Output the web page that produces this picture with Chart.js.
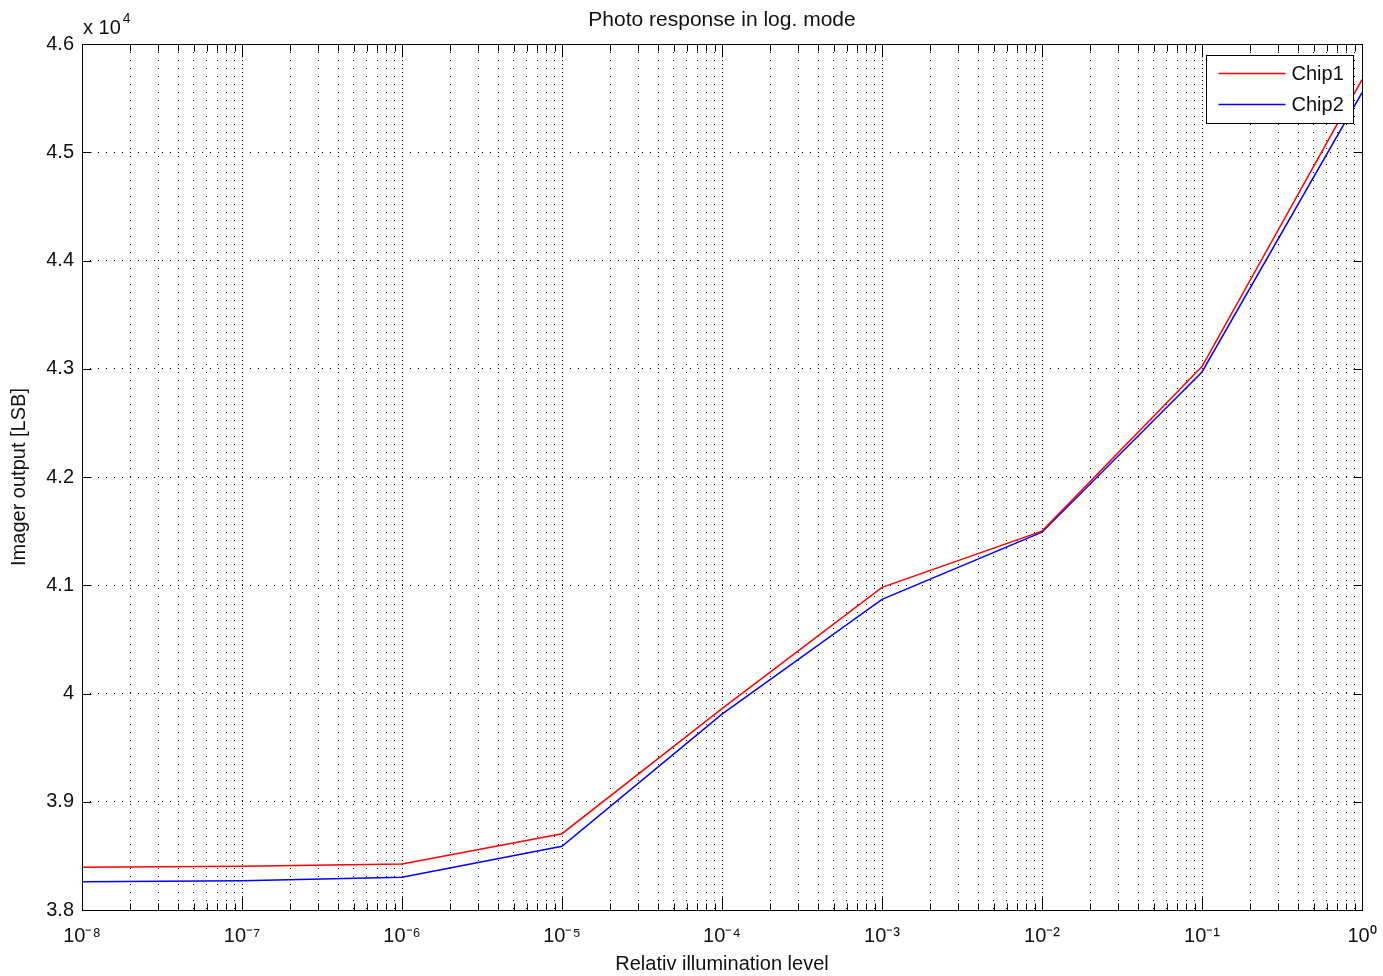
<!DOCTYPE html>
<html>
<head>
<meta charset="utf-8">
<script src="https://cdn.jsdelivr.net/npm/chart.js@4/dist/chart.umd.min.js"></script>
<style>
  html, body { margin: 0; padding: 0; background: #fff; }
  #wrap { width: 1383px; height: 976px; position: relative; }
</style>
</head>
<body>
<div id="wrap"><canvas id="c"></canvas></div>
<script>
// ---- data ----
const illumination = [1e-8, 1e-7, 1e-6, 1e-5, 1e-4, 1e-3, 1e-2, 1e-1, 1];
const chip1 = [38395, 38405, 38425, 38705, 39860, 40980, 41500, 43020, 45670];
const chip2 = [38260, 38270, 38302, 38588, 39810, 40870, 41490, 42970, 45550];
const seriesNames = ['Chip1', 'Chip2'];
const seriesColors = ['#ff0000', '#0000ff'];
const decades = [-8, -7, -6, -5, -4, -3, -2, -1, 0];
const yTickValues = [38000, 39000, 40000, 41000, 42000, 43000, 44000, 45000, 46000];
const yTickLabels = ['3.8', '3.9', '4', '4.1', '4.2', '4.3', '4.4', '4.5', '4.6'];
const titleText = 'Photo response in log. mode';
const xTitle = 'Relativ illumination level';
const yTitle = 'Imager output [LSB]';

const FONT = '"Liberation Sans", Arial, Helvetica, sans-serif';
const TXT = '#111';

const sup = {'-': '\u207B', '0': '\u2070', '1': '\u00B9', '2': '\u00B2', '3': '\u00B3', '4': '\u2074',
             '5': '\u2075', '6': '\u2076', '7': '\u2077', '8': '\u2078', '9': '\u2079'};
const toSup = s => String(s).split('').map(ch => sup[ch] || ch).join('');

// all x tick values: 1..9 x 10^k within the range
const xTickValues = [];
decades.forEach(d => {
  if (d === 0) { xTickValues.push(1); return; }
  for (let m = 1; m <= 9; m++) xTickValues.push(m * Math.pow(10, d));
});
const isDecade = v => Math.abs(Math.log10(v) - Math.round(Math.log10(v))) < 1e-9;

const mkData = arr => illumination.map((x, i) => ({x: x, y: arr[i]}));

const framePlugin = {
  id: 'matlabFrame',
  afterLayout(chart) {
    // center the title over the plot box, as MATLAB does
    const tb = chart.titleBlock;
    if (tb) { tb.left = chart.chartArea.left; tb.right = chart.chartArea.right; }
  },
  beforeDatasetsDraw(chart) {
    const {ctx, chartArea: a, scales: {x}} = chart;
    // denser dots on the decade grid lines (major + minor grid overlap)
    ctx.save();
    ctx.strokeStyle = '#000';
    ctx.lineWidth = 1;
    ctx.setLineDash([1, 7]);
    ctx.lineDashOffset = -4;
    decades.forEach(d => {
      const px = Math.round(x.getPixelForValue(Math.pow(10, d))) + 0.5;
      ctx.beginPath(); ctx.moveTo(px, a.top); ctx.lineTo(px, a.bottom); ctx.stroke();
    });
    ctx.restore();
  },
  afterDatasetsDraw(chart) {
    const {ctx, chartArea: a, scales: {x, y}} = chart;
    ctx.save();
    ctx.strokeStyle = '#000';
    ctx.lineWidth = 1;
    ctx.setLineDash([]);
    // box
    const L = Math.round(a.left) + 0.5, R = Math.round(a.right) + 0.5;
    const T = Math.round(a.top) + 0.5, B = Math.round(a.bottom) + 0.5;
    ctx.strokeRect(L, T, R - L, B - T);
    // inward ticks
    ctx.beginPath();
    xTickValues.forEach(v => {
      const px = Math.round(x.getPixelForValue(v)) + 0.5;
      const len = isDecade(v) ? 13 : 7;
      ctx.moveTo(px, B); ctx.lineTo(px, B - len);
      ctx.moveTo(px, T); ctx.lineTo(px, T + len);
    });
    yTickValues.forEach(v => {
      const py = Math.round(y.getPixelForValue(v)) + 0.5;
      ctx.moveTo(L, py); ctx.lineTo(L + 9, py);
      ctx.moveTo(R, py); ctx.lineTo(R - 9, py);
    });
    ctx.stroke();

    // legend
    const bw = 147, bh = 68;
    const bx = Math.round(a.right) - 9 - bw + 0.5;
    const by = Math.round(a.top) + 11 + 0.5;
    ctx.fillStyle = '#fff';
    ctx.fillRect(bx, by, bw, bh);
    ctx.strokeStyle = '#000';
    ctx.strokeRect(bx, by, bw, bh);
    ctx.font = '20px ' + FONT;
    ctx.textBaseline = 'middle';
    ctx.textAlign = 'left';
    chart.data.datasets.forEach((ds, i) => {
      const ly = by + 18 + i * 31;
      ctx.strokeStyle = ds.borderColor;
      ctx.lineWidth = 1.3;
      ctx.beginPath(); ctx.moveTo(bx + 12, ly); ctx.lineTo(bx + 79, ly); ctx.stroke();
      ctx.fillStyle = TXT;
      ctx.fillText(ds.label, bx + 85, ly + 1);
    });

    // exponent label "x 10^4"
    ctx.textBaseline = 'alphabetic';
    ctx.font = '20px ' + FONT;
    ctx.fillStyle = TXT;
    const base = 'x 10';
    ctx.fillText(base, a.left + 1, a.top - 10);
    const w = ctx.measureText(base).width;
    ctx.font = '14px ' + FONT;
    ctx.fillText('4', a.left + 1 + w + 2, a.top - 21);
    ctx.restore();
  }
};

new Chart(document.getElementById('c'), {
  type: 'line',
  data: {
    datasets: [
      {label: seriesNames[0], data: mkData(chip1), borderColor: seriesColors[0], backgroundColor: seriesColors[0],
       borderWidth: 1.5, pointRadius: 0, tension: 0, fill: false},
      {label: seriesNames[1], data: mkData(chip2), borderColor: seriesColors[1], backgroundColor: seriesColors[1],
       borderWidth: 1.5, pointRadius: 0, tension: 0, fill: false}
    ]
  },
  options: {
    responsive: true,
    maintainAspectRatio: false,
    animation: false,
    devicePixelRatio: 1,
    layout: {padding: {left: 0, right: 21, top: 0, bottom: 0}},
    plugins: {
      legend: {display: false},
      tooltip: {enabled: false},
      title: {display: true, text: titleText, color: TXT,
              font: {family: FONT, size: 21, weight: 'normal'}, padding: {top: 8, bottom: 10.8}}
    },
    scales: {
      x: {
        type: 'logarithmic',
        min: 1e-8, max: 1,
        afterBuildTicks(scale) { scale.ticks = xTickValues.map(v => ({value: v})); },
        afterFit(scale) { scale.height = 66; scale.paddingLeft = 0; scale.paddingRight = 0; },
        ticks: {
          autoSkip: false, maxRotation: 0, minRotation: 0, padding: 14, color: TXT,
          font: {family: FONT, size: 20},
          callback(v) { return isDecade(v) ? '10' + toSup(Math.round(Math.log10(v))) : ''; }
        },
        grid: {color: '#000', lineWidth: 1, drawTicks: false},
        border: {display: false, dash: [1, 7]},
        title: {display: true, text: xTitle, color: TXT, font: {family: FONT, size: 20}, padding: {top: 0, bottom: 0}}
      },
      y: {
        type: 'linear',
        min: 38000, max: 46000,
        afterBuildTicks(scale) { scale.ticks = yTickValues.map(v => ({value: v})); },
        afterFit(scale) { scale.width = 82; scale.paddingTop = 0; scale.paddingBottom = 0; },
        ticks: {
          padding: 8, color: TXT, font: {family: FONT, size: 20},
          callback(v) { const i = yTickValues.indexOf(v); return i >= 0 ? yTickLabels[i] : ''; }
        },
        grid: {color: '#000', lineWidth: 1, drawTicks: false},
        border: {display: false, dash: [1, 7]},
        title: {display: true, text: yTitle, color: TXT, font: {family: FONT, size: 20}, padding: {top: 7, bottom: 0}}
      }
    }
  },
  plugins: [framePlugin]
});
</script>
</body>
</html>
